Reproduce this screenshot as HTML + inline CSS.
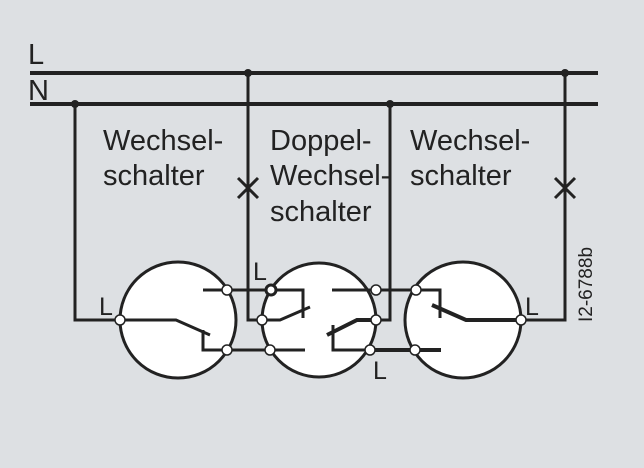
<!DOCTYPE html>
<html><head><style>
html,body{margin:0;padding:0;background:#dde0e3;}
svg{display:block}
text{font-family:"Liberation Sans",sans-serif;fill:#222;}
</style></head><body>
<svg width="644" height="468" viewBox="0 0 644 468">
<rect width="644" height="468" fill="#dde0e3"/>
<g stroke="#222" fill="none" stroke-width="3">
<line x1="30" y1="73" x2="598" y2="73" stroke-width="4"/>
<line x1="30" y1="104" x2="598" y2="104" stroke-width="4"/>
<polyline points="75,104 75,320 120,320"/>
<polyline points="248,73 248,320 262,320"/>
<polyline points="390,104 390,320 376,320"/>
<polyline points="565,73 565,320 521,320"/>
<line x1="238" y1="178" x2="258" y2="198"/><line x1="258" y1="178" x2="238" y2="198"/>
<line x1="555" y1="178" x2="575" y2="198"/><line x1="575" y1="178" x2="555" y2="198"/>
</g>
<g fill="#fff" stroke="#222" stroke-width="3">
<circle cx="178" cy="320" r="58"/>
<circle cx="319" cy="320" r="57"/>
<circle cx="463" cy="320" r="58"/>
</g>
<g stroke="#222" fill="none" stroke-width="3">
<polyline points="120,320 176,320 210,335"/>
<polyline points="203,330 203,350 305,350"/>
<polyline points="203,290 303,290 303,318"/>
<polyline points="262,320 280,320 310,307"/>
<polyline points="332,290 440,290 440,318"/>
<polyline points="376,320 357,320 327,335" stroke-width="4"/>
<polyline points="333,325 333,350 441,350" stroke-width="3"/>
<line x1="370" y1="350" x2="441" y2="350" stroke-width="4"/>
<polyline points="521,320 466,320 432,305" stroke-width="4"/>
</g>
<g fill="#222">
<circle cx="248" cy="73" r="4"/><circle cx="565" cy="73" r="4"/>
<circle cx="75" cy="104" r="4"/><circle cx="390" cy="104" r="4"/>
</g>
<g fill="#fff" stroke="#222" stroke-width="1.5">
<circle cx="120" cy="320" r="5"/><circle cx="227" cy="290" r="5"/><circle cx="227" cy="350" r="5"/>
<circle cx="271" cy="290" r="5" stroke-width="3"/><circle cx="262" cy="320" r="5"/><circle cx="270" cy="350" r="5"/>
<circle cx="376" cy="290" r="5"/><circle cx="376" cy="320" r="5"/><circle cx="370" cy="350" r="5"/>
<circle cx="416" cy="290" r="5"/><circle cx="415" cy="350" r="5"/><circle cx="521" cy="320" r="5"/>
</g>
<g font-size="29">
<text x="28" y="64">L</text><text x="28" y="100">N</text>
<text x="103" y="150">Wechsel-</text><text x="103" y="185">schalter</text>
<text x="270" y="150">Doppel-</text><text x="270" y="185">Wechsel-</text><text x="270" y="221">schalter</text>
<text x="410" y="150">Wechsel-</text><text x="410" y="185">schalter</text>
<text x="99" y="315" font-size="25">L</text>
<text x="253" y="280" font-size="25">L</text>
<text x="525" y="315" font-size="25">L</text>
<text x="373" y="379" font-size="25">L</text>
</g>
<text transform="translate(592,322) rotate(-90)" font-size="19">I2-6788b</text>
</svg>
</body></html>
